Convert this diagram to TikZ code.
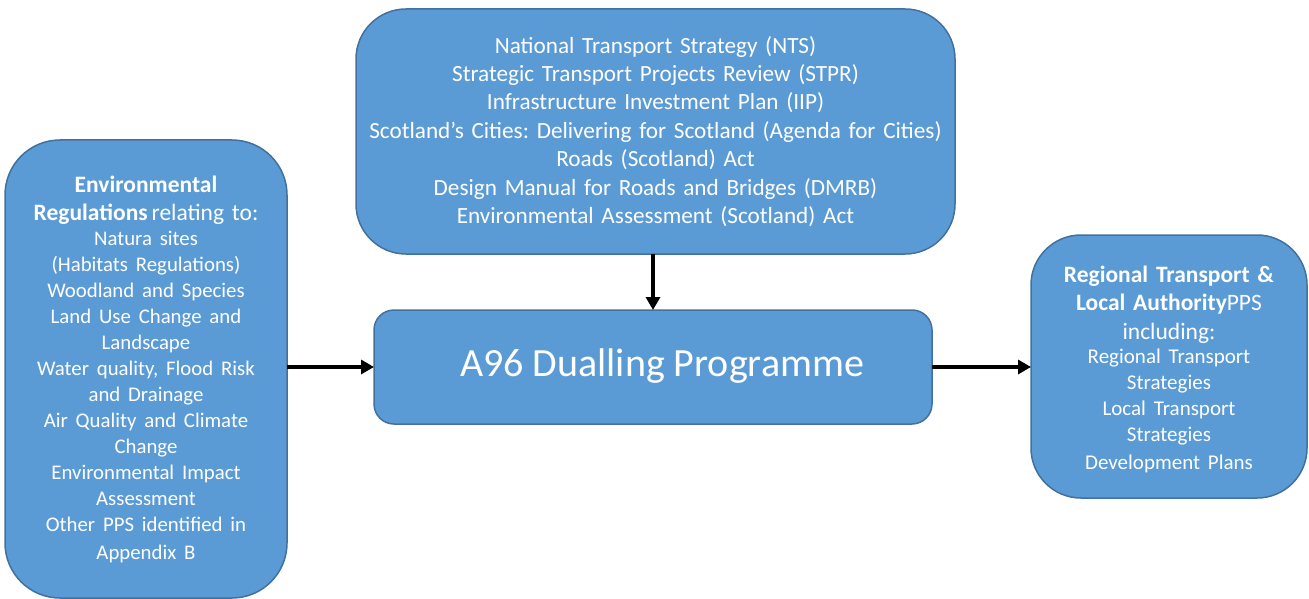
\documentclass[tikz,border=0pt]{standalone}
\usepackage{fontspec}
\setmainfont{Carlito}
\usetikzlibrary{arrows.meta}
\definecolor{boxfill}{HTML}{5B9BD5}
\definecolor{boxedge}{HTML}{41719C}
\begin{document}
\frenchspacing
\begin{tikzpicture}[x=1pt,y=-1pt,
  panel/.style={draw=boxedge, line width=1.5pt, fill=boxfill, text=white,
    align=center, inner sep=0pt, outer sep=0pt},
  flow/.style={line width=4pt, -{Triangle[length=13pt,width=14pt]}}]
\useasboundingbox (0,0) rectangle (1309,599);
% Policy context above
\node[panel, rounded corners=50pt, minimum width=599pt, minimum height=245pt,
      text width=595pt, font=\fontsize{23.2}{28.4}\selectfont] (top) at (655.5,131.5)
  {National Transport Strategy (NTS)\\
   Strategic Transport Projects Review (STPR)\\
   Infrastructure Investment Plan (IIP)\\
   Scotland’s Cities: Delivering for Scotland (Agenda for Cities)\\
   Roads (Scotland) Act\\
   Design Manual for Roads and Bridges (DMRB)\\
   Environmental Assessment (Scotland) Act};
% Environmental regulations
\node[panel, rounded corners=55pt, minimum width=282pt, minimum height=458pt,
      text width=278pt, font=\fontsize{23.5}{28}\selectfont] (env) at (146,369)
  {\textbf{Environmental}\\
   \textbf{Regulations}\,relating to:\\[-1pt]
   \fontsize{20.8}{26}\selectfont
   Natura sites\\
   (Habitats Regulations)\\
   Woodland and Species\\
   Land Use Change and\\
   Landscape\\
   Water quality, Flood Risk\\
   and Drainage\\
   Air Quality and Climate\\
   Change\\
   Environmental Impact\\
   Assessment\\
   Other PPS identified in\\
   Appendix B};
% Central programme (title sits a little right of and above the box centre)
\node[panel, rounded corners=20pt, minimum width=558pt, minimum height=114pt,
      font=\fontsize{40}{44}\selectfont] (prog) at (653,367)
  {\hspace*{18pt}\raisebox{8pt}{A96 Dualling Programme}};
% Regional and local plans (text block sits slightly below the box centre)
\node[panel, rounded corners=50pt, minimum width=276pt, minimum height=263pt,
      text width=272pt, font=\fontsize{23.5}{28.5}\selectfont] (reg) at (1169,366.5)
  {\mbox{}\\[-6.5pt]
   \textbf{Regional Transport \&}\\
   \textbf{Local Authority}PPS\\
   including:\\[-2pt]
   \fontsize{21}{26}\selectfont
   Regional Transport\\
   Strategies\\
   Local Transport\\
   Strategies\\
   Development Plans};
% Connectors
\draw[flow] (top.south -| prog.north) -- (prog.north);
\draw[flow] (env.east |- prog.west) -- (prog.west);
\draw[flow] (prog.east) -- (reg.west |- prog.east);
\end{tikzpicture}
\end{document}
